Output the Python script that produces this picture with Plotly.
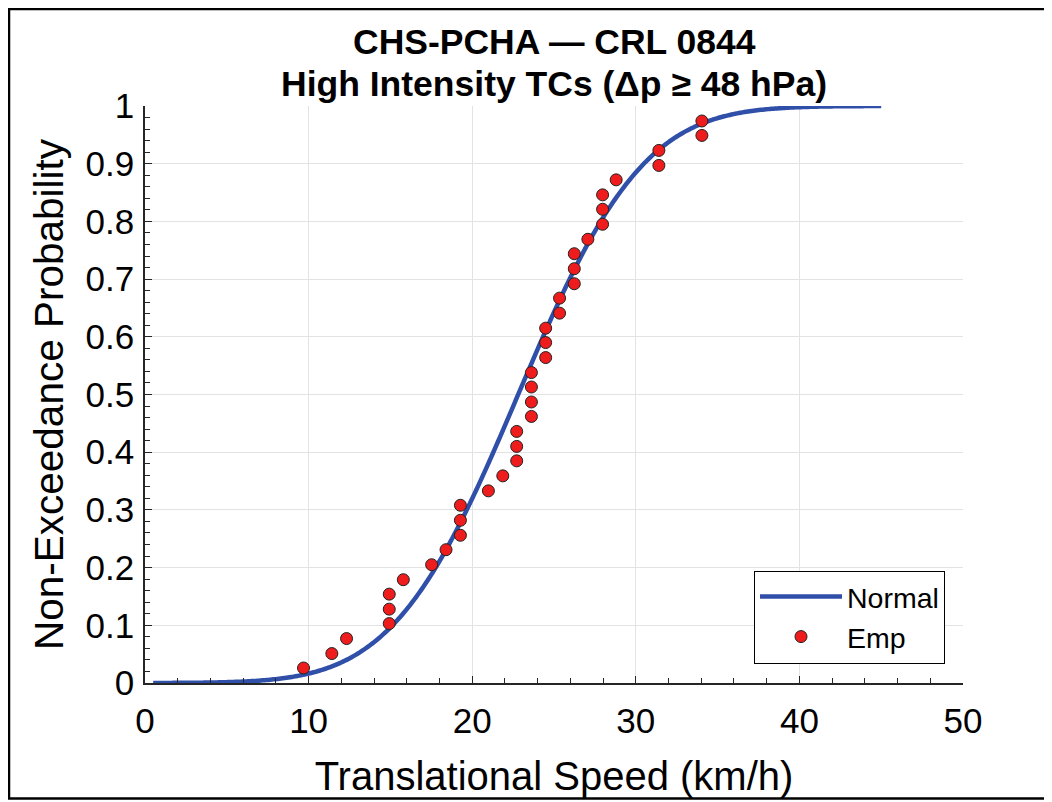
import math
import numpy as np
import plotly.graph_objects as go

# ---- data ----
emp_speed = [9.69, 11.42, 12.32, 14.93, 14.93, 14.93, 15.79, 17.52, 18.40,
             19.28, 19.28, 19.28, 20.99, 21.87, 22.72, 22.72, 22.72, 23.62,
             23.62, 23.62, 23.62, 24.49, 24.49, 24.49, 25.34, 25.34, 26.24,
             26.24, 26.24, 27.07, 27.97, 27.97, 27.97, 28.80, 31.41, 31.41,
             34.04, 34.04]
emp_prob = [0.026, 0.051, 0.077, 0.103, 0.128, 0.154, 0.179, 0.205, 0.231,
            0.256, 0.282, 0.308, 0.333, 0.359, 0.385, 0.410, 0.436, 0.462,
            0.487, 0.513, 0.538, 0.564, 0.590, 0.615, 0.641, 0.667, 0.692,
            0.718, 0.744, 0.769, 0.795, 0.821, 0.846, 0.872, 0.897, 0.923,
            0.949, 0.974]
curve_range = [0.5, 45.0]
x_ticks = [0, 10, 20, 30, 40, 50]
y_ticks = [0, 0.1, 0.2, 0.3, 0.4, 0.5, 0.6, 0.7, 0.8, 0.9, 1]
y_tick_labels = ["0", "0.1", "0.2", "0.3", "0.4", "0.5", "0.6", "0.7", "0.8", "0.9", "1"]

# Normal fit to the empirical sample
mu = float(np.mean(emp_speed))
sigma = float(np.std(emp_speed, ddof=1))
curve_x = np.linspace(curve_range[0], curve_range[1], 400)
curve_y = [0.5 * (1 + math.erf((v - mu) / (sigma * math.sqrt(2)))) for v in curve_x]

FONT = "Liberation Sans, Arial, Helvetica, sans-serif"

fig = go.Figure()
fig.add_trace(go.Scatter(x=curve_x, y=curve_y, mode="lines", name="Normal",
                         line=dict(color="#2f4fa8", width=4.5, simplify=False)))
fig.add_trace(go.Scatter(x=emp_speed, y=emp_prob, mode="markers", name="Emp",
                         marker=dict(color="#ee1c1c", size=12,
                                     line=dict(color="#222222", width=1))))

# page has an 8px body margin; figure is sized so page coords match the reference
W, H = 1044, 794
OFF = 8
L, T = 145 - OFF, 106 - OFF
R = W - (963 - OFF)
B = H - (683.5 - OFF)
pw, ph = W - L - R, H - T - B

def px2paper_x(px):
    return (px - OFF - L) / pw

def px2paper_y(py):
    return (H - B - (py - OFF)) / ph

fig.update_layout(
    width=W, height=H, autosize=False,
    margin=dict(l=L, r=R, t=T, b=B, autoexpand=False),
    paper_bgcolor="white", plot_bgcolor="white",
    font=dict(family=FONT, color="black"),
    showlegend=True,
    legend=dict(x=px2paper_x(945), y=px2paper_y(664), xanchor="right", yanchor="bottom",
                bordercolor="black", borderwidth=1, bgcolor="white",
                font=dict(size=28.5, family=FONT), itemwidth=82,
                tracegroupgap=0),
    xaxis=dict(range=[0, 50], tickvals=x_ticks, ticks="inside", ticklen=7,
               tickcolor="#262626", showline=True, linecolor="#262626", linewidth=1.5,
               showgrid=True, gridcolor="#e3e3e3", gridwidth=1, zeroline=False,
               tickfont=dict(size=35, family=FONT), ticklabelstandoff=6,
               minor=dict(dtick=2, ticks="inside", ticklen=5, tickcolor="#262626", showgrid=False),
               title=dict(text="Translational Speed (km/h)", font=dict(size=40, family=FONT),
                          standoff=23),
               automargin=False, mirror=False),
    yaxis=dict(range=[0, 1], tickvals=y_ticks, ticktext=y_tick_labels, ticks="inside", ticklen=7,
               tickcolor="#262626", showline=True, linecolor="#262626", linewidth=1.5,
               showgrid=True, gridcolor="#e3e3e3", gridwidth=1, zeroline=False,
               tickfont=dict(size=35, family=FONT), ticklabelstandoff=2,
               minor=dict(dtick=0.02, ticks="inside", ticklen=5, tickcolor="#262626", showgrid=False),
               title=dict(text="Non-Exceedance Probability", font=dict(size=40.5, family=FONT),
                          standoff=9),
               automargin=False, mirror=False),
)

fig.add_annotation(text="<b>CHS-PCHA — CRL 0844</b>", xref="paper", yref="paper",
                   x=0.5, y=px2paper_y(42), xanchor="center", yanchor="middle",
                   showarrow=False, font=dict(size=35.5, family=FONT, color="black"))
fig.add_annotation(text="<b>High Intensity TCs (Δp ≥ 48 hPa)</b>", xref="paper", yref="paper",
                   x=0.5, y=px2paper_y(84), xanchor="center", yanchor="middle",
                   showarrow=False, font=dict(size=35.5, family=FONT, color="black"))

# outer figure frame
fig.add_shape(type="rect", xref="paper", yref="paper",
              x0=px2paper_x(9), x1=px2paper_x(1047), y0=px2paper_y(799), y1=px2paper_y(9),
              line=dict(color="black", width=2.5), fillcolor="rgba(0,0,0,0)", layer="below")

fig.write_html("out.html")
